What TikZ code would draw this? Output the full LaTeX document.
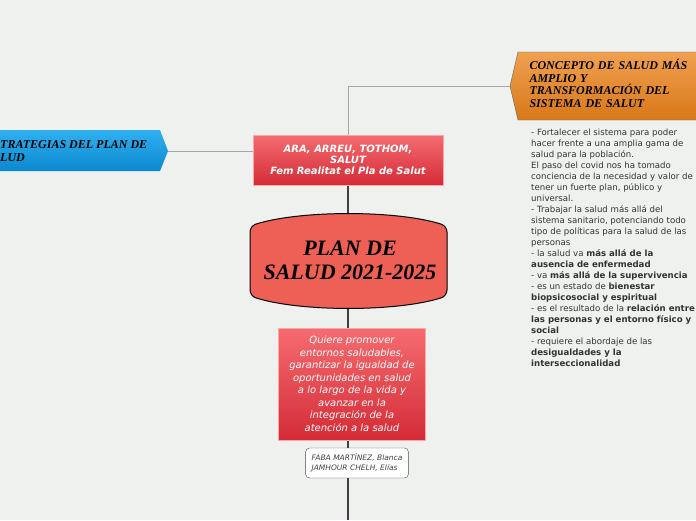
\documentclass[tikz,border=0pt]{standalone}
\usepackage{fontspec}
\setmainfont{DejaVu Sans}
\newfontfamily\headfont{Liberation Serif}
\usetikzlibrary{positioning}
\definecolor{bgc}{HTML}{EFF1EE}
\definecolor{redtop}{HTML}{F56C70}
\definecolor{redbot}{HTML}{D42B36}
\definecolor{plancol}{HTML}{EE5F55}
\definecolor{orgtop}{HTML}{F0A050}
\definecolor{orgbot}{HTML}{D87818}
\definecolor{bluetop}{HTML}{30B0F0}
\definecolor{bluebot}{HTML}{0A88D0}
\definecolor{notecol}{HTML}{333333}
\begin{document}
\begin{tikzpicture}[x=1pt,y=-1pt,
    redbox/.style={rectangle, top color=redtop, bottom color=redbot, draw=redtop!60, text=white, align=center, font=\fontsize{10}{11}\selectfont\itshape},
    author/.style={rectangle, rounded corners=4pt, draw=black!70, fill=white, align=left, font=\fontsize{7.5}{9.5}\selectfont\itshape, text=black!75, inner sep=6pt},
    link/.style={draw=black!75, line width=1.6pt},
    thinlink/.style={draw=black!35, line width=0.8pt},
    head/.style={font=\headfont\fontsize{12}{12.5}\selectfont\bfseries\itshape, align=left}
  ]
  \fill[bgc] (0,0) rectangle (696,520);
  \useasboundingbox (0,0) rectangle (696,520);
  % connectors
  \coordinate (top) at (348,86);
  \draw[thinlink] (512,86) -- (top) -- (348,135);
  \draw[thinlink] (166,151) -- (253,151);
  \draw[link] (348,185) -- (348,520);
  % orange topic
  \shade[top color=orgtop, bottom color=orgbot, draw=black!60]
    (518,52) -- (700,52) -- (700,120) -- (518,120) -- (510,86) -- cycle;
  \node[head, anchor=north west, text width=170pt] (concepto) at (526,56)
    {CONCEPTO DE SALUD MÁS\\AMPLIO Y\\TRANSFORMACIÓN DEL\\SISTEMA DE SALUT};
  % blue topic
  \shade[top color=bluetop, bottom color=bluebot]
    (-5,130) -- (160,130) -- (168,151) -- (160,171) -- (-5,171) -- cycle;
  \node[head, anchor=west] (estrategias) at (-18,151) {ESTRATEGIAS DEL PLAN DE\\SALUD};
  % red boxes
  \node[redbox, minimum width=190pt, minimum height=50pt, font=\fontsize{10}{11}\selectfont\bfseries\itshape] (ara) at (348,160)
    {ARA, ARREU, TOTHOM,\\SALUT\\Fem Realitat el Pla de Salut};
  \filldraw[fill=plancol, draw=black, line width=1pt, rounded corners=6pt]
    (250,226) .. controls (300,210) and (397,210) .. (447,226) -- (447,296)
    .. controls (397,312) and (300,312) .. (250,296) -- cycle;
  \node[font=\headfont\fontsize{22}{24}\selectfont\bfseries\itshape, align=center] (plan) at (350,260) {PLAN DE\\SALUD 2021-2025};
  \node[redbox, minimum width=147pt, minimum height=112pt, font=\fontsize{10}{12.5}\selectfont\itshape] (quiere) at (352,384)
    {Quiere promover\\entornos saludables,\\garantizar la igualdad de\\oportunidades en salud\\a lo largo de la vida y\\avanzar en la\\integración de la\\atención a la salud};
  \node[author] (faba) at (357,463) {FABA MARTÍNEZ, Blanca\\JAMHOUR CHELH, Elías};
  % notes
  \node[anchor=north west, align=left, text=notecol, font=\fontsize{8.6}{11}\selectfont, inner sep=0pt] (notes) at (531,129)
    {- Fortalecer el sistema para poder\\hacer frente a una amplia gama de\\salud para la población.\\El paso del covid nos ha tomado\\conciencia de la necesidad y valor de\\tener un fuerte plan, público y\\universal.\\- Trabajar la salud más allá del\\sistema sanitario, potenciando todo\\tipo de políticas para la salud de las\\personas\\- la salud va \textbf{más allá de la}\\\textbf{ausencia de enfermedad}\\- va \textbf{más allá de la supervivencia}\\- es un estado de \textbf{bienestar}\\\textbf{biopsicosocial y espiritual}\\- es el resultado de la \textbf{relación entre}\\\textbf{las personas y el entorno físico y}\\\textbf{social}\\- requiere el abordaje de las\\\textbf{desigualdades y la}\\\textbf{interseccionalidad}};
\end{tikzpicture}
\end{document}
